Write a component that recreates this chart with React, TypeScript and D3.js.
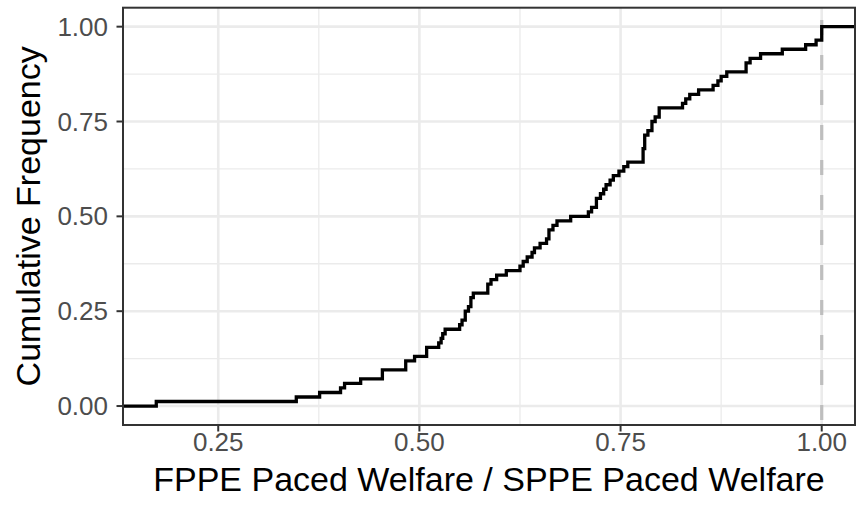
import React from 'react';
import * as d3 from 'd3';

// ratio of FPPE paced welfare to SPPE paced welfare, one value per instance
const welfareRatio = [
  0.173, 0.347, 0.376, 0.402, 0.407, 0.427, 0.454, 0.454, 0.483, 0.483,
  0.494, 0.509, 0.509, 0.524, 0.527, 0.529, 0.532,
  0.55, 0.553, 0.557, 0.557, 0.561, 0.564, 0.564, 0.567,
  0.585, 0.585, 0.589, 0.596, 0.608,
  0.625, 0.629, 0.634, 0.64, 0.643, 0.65, 0.658, 0.661, 0.661, 0.666, 0.671,
  0.688,
  0.71, 0.714, 0.72, 0.72, 0.725, 0.729, 0.732, 0.737, 0.741, 0.748, 0.754, 0.759,
  0.778, 0.778, 0.778, 0.78, 0.78, 0.78, 0.784, 0.789, 0.789, 0.793, 0.798, 0.798,
  0.827, 0.831, 0.836, 0.847, 0.865, 0.871, 0.875, 0.882,
  0.906, 0.906, 0.911, 0.924, 0.951, 0.98, 0.993,
  1.0, 1.0, 1.0,
];

const xTicks = [0.25, 0.5, 0.75, 1.0];
const xMinor = [0.125, 0.375, 0.625, 0.875];
const yTicks = [0, 0.25, 0.5, 0.75, 1.0];
const yMinor = [0.125, 0.375, 0.625, 0.875];
const referenceLine = 1.0;

const xTitle = 'FPPE Paced Welfare / SPPE Paced Welfare';
const yTitle = 'Cumulative Frequency';

const W = 856;
const H = 510;
const panel = { left: 123, right: 855, top: 7.7, bottom: 425 };
const font = '"Liberation Sans", Arial, Helvetica, sans-serif';

const App = () => {
  // ggplot-style 5% expansion around the data
  const [lo, hi] = d3.extent(welfareRatio) as [number, number];
  const pad = (hi - lo) * 0.05;

  const x = d3.scaleLinear().domain([lo - pad, hi + pad]).range([panel.left, panel.right]);
  const y = d3.scaleLinear().domain([-0.05, 1.05]).range([panel.bottom, panel.top]);

  // empirical CDF, padded to both panel edges
  const sorted = [...welfareRatio].sort(d3.ascending);
  const n = sorted.length;
  const steps: [number, number][] = [[lo - pad, 0]];
  d3.groups(sorted, d => d).forEach(([v]) => {
    steps.push([v, d3.bisectRight(sorted, v) / n]);
  });
  steps.push([hi + pad, 1]);

  const line = d3
    .line<[number, number]>()
    .x(d => x(d[0]))
    .y(d => y(d[1]))
    .curve(d3.curveStepAfter);

  const inX = (v: number) => v >= lo - pad && v <= hi + pad;

  return (
    <svg width={W} height={H} style={{ position: 'absolute', left: 0, top: 0, display: 'block' }}>
      <rect x={0} y={0} width={W} height={H} fill="#ffffff" />

      {/* grid */}
      {yMinor.map(t => (
        <line key={'ym' + t} x1={panel.left} x2={panel.right} y1={y(t)} y2={y(t)} stroke="#ebebeb" strokeWidth={1.3} />
      ))}
      {xMinor.filter(inX).map(t => (
        <line key={'xm' + t} x1={x(t)} x2={x(t)} y1={panel.top} y2={panel.bottom} stroke="#ebebeb" strokeWidth={1.3} />
      ))}
      {yTicks.map(t => (
        <line key={'yg' + t} x1={panel.left} x2={panel.right} y1={y(t)} y2={y(t)} stroke="#ebebeb" strokeWidth={2.6} />
      ))}
      {xTicks.map(t => (
        <line key={'xg' + t} x1={x(t)} x2={x(t)} y1={panel.top} y2={panel.bottom} stroke="#ebebeb" strokeWidth={2.6} />
      ))}

      {/* reference line at ratio 1 */}
      <line
        x1={x(referenceLine)}
        x2={x(referenceLine)}
        y1={panel.bottom}
        y2={panel.top}
        stroke="#bebebe"
        strokeWidth={3.2}
        strokeDasharray="15 20"
        strokeDashoffset={30}
      />

      <path d={line(steps) ?? ''} fill="none" stroke="#000000" strokeWidth={3.3} />

      <rect
        x={panel.left}
        y={panel.top}
        width={panel.right - panel.left}
        height={panel.bottom - panel.top}
        fill="none"
        stroke="#333333"
        strokeWidth={2}
      />

      {/* x axis */}
      {xTicks.map(t => (
        <g key={'xt' + t}>
          <line x1={x(t)} x2={x(t)} y1={panel.bottom} y2={panel.bottom + 6.5} stroke="#333333" strokeWidth={2} />
          <text x={x(t)} y={451} textAnchor="middle" fontFamily={font} fontSize={26} fill="#4d4d4d">
            {d3.format('.2f')(t)}
          </text>
        </g>
      ))}

      {/* y axis */}
      {yTicks.map(t => (
        <g key={'yt' + t}>
          <line x1={panel.left - 6.5} x2={panel.left} y1={y(t)} y2={y(t)} stroke="#333333" strokeWidth={2} />
          <text x={108} y={y(t)} dy="0.35em" textAnchor="end" fontFamily={font} fontSize={26} fill="#4d4d4d">
            {d3.format('.2f')(t)}
          </text>
        </g>
      ))}

      <text x={(panel.left + panel.right) / 2} y={491} textAnchor="middle" fontFamily={font} fontSize={34} fill="#000000">
        {xTitle}
      </text>
      <text
        transform={`translate(40,${(panel.top + panel.bottom) / 2}) rotate(-90)`}
        textAnchor="middle"
        fontFamily={font}
        fontSize={34}
        fill="#000000"
      >
        {yTitle}
      </text>
    </svg>
  );
};

export default App;
